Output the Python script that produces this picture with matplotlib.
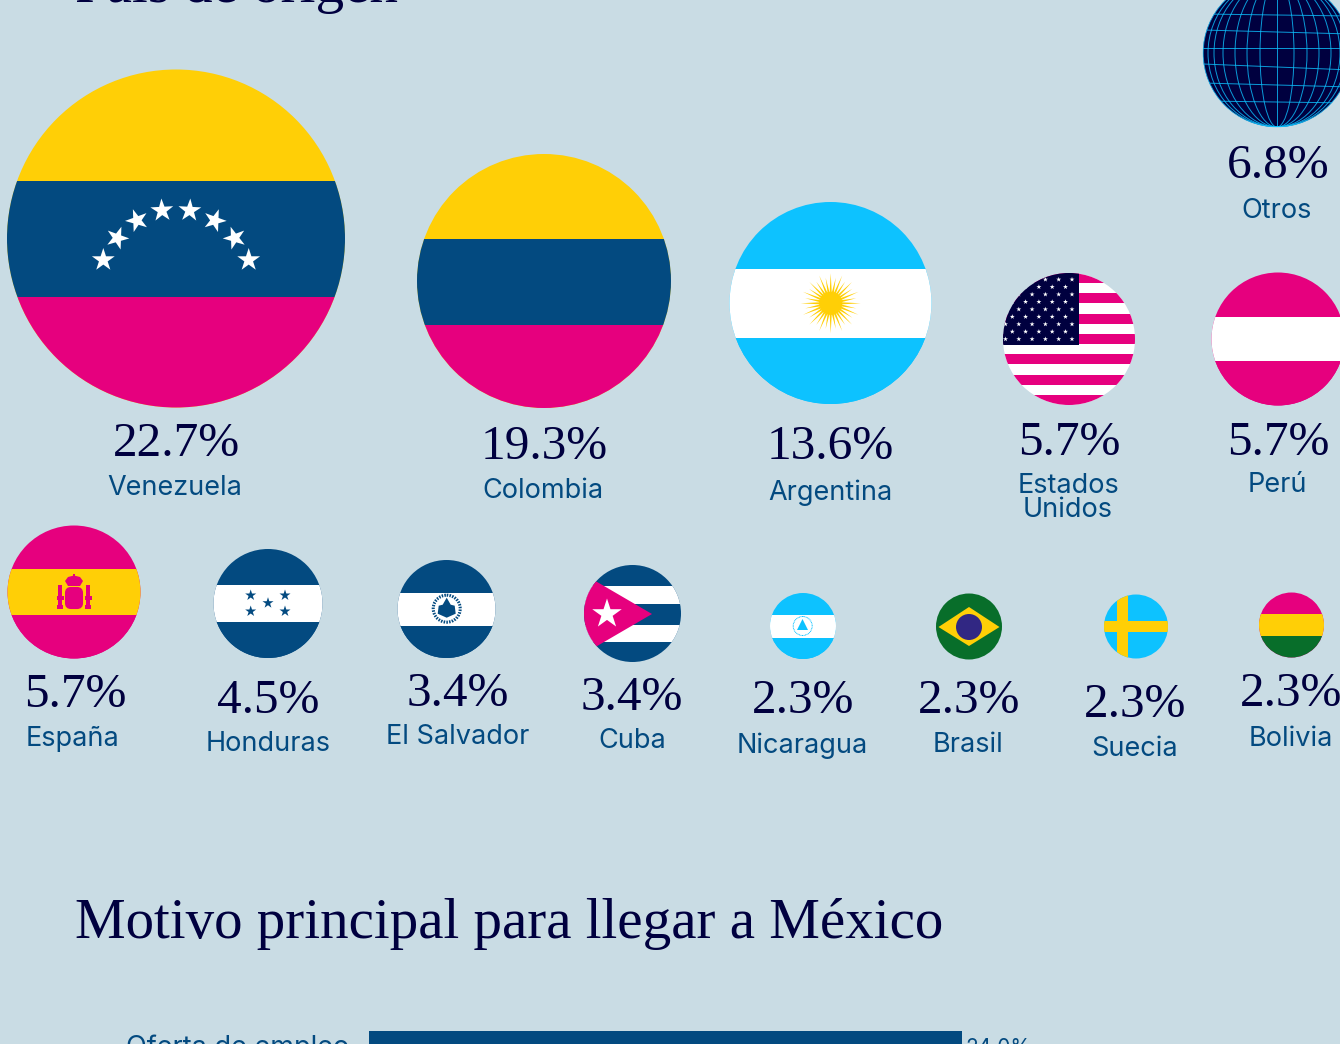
import numpy as np
import matplotlib
matplotlib.use("Agg")
import matplotlib.pyplot as plt
from matplotlib.patches import Circle, Rectangle, Polygon, Ellipse, FancyBboxPatch

# ---- data ----
countries = ["Venezuela", "Colombia", "Argentina", "Estados\nUnidos", "Perú", "Otros", "España",
             "Honduras", "El Salvador", "Cuba", "Nicaragua", "Brasil", "Suecia", "Bolivia"]
shares = [22.7, 19.3, 13.6, 5.7, 5.7, 6.8, 5.7, 4.5, 3.4, 3.4, 2.3, 2.3, 2.3, 2.3]
section_titles = ["País de origen", "Motivo principal para llegar a México"]
reason_labels = ["Oferta de empleo"]
reason_values = [24.0]

# ---- layout (pixels) ----
BG = "#C9DCE4"; YEL = "#FFCF06"; BLU = "#034A80"; MAG = "#E6007E"; SKY = "#0DC2FF"
NAVY = "#00003F"; GRN = "#086E2A"; PUR = "#312783"; WHT = "#FFFFFF"
SERIF = "Liberation Serif"; SANS = "Inter"

circle_xyr = [(176, 238.5, 169), (544, 281, 127), (830.5, 303, 101), (1069, 339, 66), (1278, 339, 66.5),
              (1277, 53, 74), (74, 592, 66.5), (268, 603.5, 54.5), (446.5, 609, 49), (632.5, 613.5, 48.5),
              (803, 626, 33), (969, 626.5, 33), (1136, 626.5, 32), (1291.5, 625, 32.5)]
pct_xy = [(176, 456), (544, 459), (830, 459), (1069, 455), (1278, 455), (1278, 178), (75, 707),
          (268, 713), (458, 706), (632, 710), (803, 713), (969, 713), (1135, 717), (1291, 706)]
name_xy = [(175, 488), (543, 491.5), (830, 492.5), (1068, 498), (1277, 485.5), (1277, 211.5), (73, 738.5),
           (268, 744), (458, 737.5), (632, 741.5), (802, 745.5), (968, 745.5), (1135, 749.5), (1291, 738.5)]

fig = plt.figure(figsize=(13.4, 10.44), dpi=100, facecolor=BG)
ax = fig.add_axes([0, 0, 1, 1])
ax.set_xlim(0, 1340); ax.set_ylim(1044, 0); ax.axis("off")


def star(cx, cy, R, rot=0, color=WHT, clip=None, inner=0.382, z=4):
    ang = np.radians(np.arange(10) * 36 + rot)
    rad = np.where(np.arange(10) % 2 == 0, R, R * inner)
    pts = np.c_[cx + rad * np.sin(ang), cy - rad * np.cos(ang)]
    p = Polygon(pts, closed=True, fc=color, ec="none", zorder=z)
    ax.add_patch(p)
    if clip is not None:
        p.set_clip_path(clip)


def disc(i, base):
    x, y, r = circle_xyr[i]
    c = Circle((x, y), r, fc=base, ec="none", zorder=2)
    ax.add_patch(c)
    return c


def rect(clip, x0, y0, x1, y1, color, z=3):
    p = Rectangle((x0, y0), x1 - x0, y1 - y0, fc=color, ec="none", zorder=z)
    ax.add_patch(p)
    p.set_clip_path(clip)
    return p


def hbands(i, y0, y1, top, mid, bot):
    x, y, r = circle_xyr[i]
    c = disc(i, top)
    rect(c, x - r - 1, y0, x + r + 1, y1, mid)
    rect(c, x - r - 1, y1, x + r + 1, y + r + 1, bot)
    return c


# Venezuela
hbands(0, 181, 297, YEL, BLU, MAG)
ve_x = [103.3, 117.3, 137, 162, 189.7, 214.7, 234.7, 248.7]
ve_y = [260, 238, 220.5, 210.5, 210.5, 220.5, 238, 260]
ve_r = [0, 20, -20, -3, 3, 20, -20, 0]
for sx, sy, sr in zip(ve_x, ve_y, ve_r):
    star(sx, sy, 12, sr)

# Colombia
hbands(1, 239, 325, YEL, BLU, MAG)

# Argentina
hbands(2, 269, 338, SKY, WHT, SKY)
sx, sy = 830.7, 303.3
for k in range(32):
    a = 2 * np.pi * k / 32
    L = 30 if k % 2 == 0 else 26
    d = np.array([np.cos(a), np.sin(a)]); n = np.array([-d[1], d[0]])
    c0 = np.array([sx, sy])
    ax.add_patch(Polygon([c0 + n * 1.2 + d * 8, c0 - n * 1.2 + d * 8, c0 + d * L], fc=YEL, ec="none", zorder=4))
ax.add_patch(Circle((sx, sy), 11.5, fc=YEL, ec="none", zorder=5))

# Estados Unidos
x, y, r = circle_xyr[3]
c = disc(3, WHT)
h = 2 * r / 13
for k in range(0, 13, 2):
    rect(c, x - r - 1, y - r + k * h, x + r + 1, y - r + (k + 1) * h, MAG)
rect(c, x - r - 1, y - r, 1078.5, 344.5, NAVY, z=4)
for row in range(9):
    sy = 279.5 + row * 7.45
    cols = np.arange(1072, 995, -13.3) if row % 2 == 0 else np.arange(1065.5, 995, -13.3)
    for sx in cols:
        star(sx, sy, 2.6, color=WHT, clip=c, z=5)

# Perú
hbands(4, 317, 361, MAG, WHT, MAG)

# Otros (globe)
x, y, r = circle_xyr[5]
c = disc(5, NAVY)
for a in [17, 30, 42, 54, 63, 69]:
    e = Ellipse((x, y), 2 * a, 2 * r, fc="none", ec=SKY, lw=0.7, alpha=0.8, zorder=3)
    ax.add_patch(e); e.set_clip_path(c)
ln = ax.plot([x, x], [y - r, y + r], color=SKY, lw=0.7, alpha=0.8, zorder=3)[0]; ln.set_clip_path(c)
for py, tilt in zip([15, 32, 48, 67, 85, 102], [1, 2, 0, 3, 2, 1]):
    ln = ax.plot([x - r, x + r], [py - tilt, py + tilt], color=SKY, lw=0.7, alpha=0.8, zorder=3)[0]
    ln.set_clip_path(c)
ax.add_patch(Circle((x, y), r - 0.2, fc="none", ec=SKY, lw=0.6, alpha=0.8, zorder=4))

# España
hbands(6, 569, 615, MAG, YEL, MAG)
ax.add_patch(FancyBboxPatch((66, 588), 16, 20, boxstyle="round,pad=0,rounding_size=5", fc=MAG, ec=MAG, lw=1.5, zorder=4))
ax.add_patch(Polygon([(65, 581), (68, 577), (74, 575.5), (80, 577), (83, 581), (80, 586), (68, 586)],
                     fc=MAG, ec="none", zorder=4))
ax.add_patch(Rectangle((73.2, 574), 1.6, 4, fc=MAG, ec="none", zorder=4))
for px in (60, 88):
    ax.add_patch(Rectangle((px - 2, 585), 4, 23, fc=MAG, ec="none", zorder=4))
    ax.add_patch(Rectangle((px - 3.5, 596), 7, 4, fc=MAG, ec="none", zorder=4))
    ax.add_patch(Rectangle((px - 3.2, 605), 6.4, 4, fc=MAG, ec="none", zorder=4))

# Honduras
hbands(7, 585, 622, BLU, WHT, BLU)
for sx, sy in [(250.7, 595.3), (285, 595.3), (268, 603), (250.7, 611.3), (285, 611.3)]:
    star(sx, sy, 5.8, color=BLU)

# El Salvador
hbands(8, 593, 626, BLU, WHT, BLU)
ex, ey = 446.7, 608.7
ax.add_patch(Circle((ex, ey), 13.5, fc="none", ec=BLU, lw=2.2, ls=(0, (0.5, 0.4)), zorder=4))
ax.add_patch(Polygon([(ex - 9, ey + 5), (ex - 8, ey - 3), (ex - 4, ey - 4), (ex, ey - 11), (ex + 4, ey - 4),
                      (ex + 8, ey - 3), (ex + 9, ey + 5), (ex, ey + 9)], fc=BLU, ec="none", zorder=4))

# Cuba
x, y, r = circle_xyr[9]
c = disc(9, BLU)
rect(c, x - r - 1, 585.5, x + r + 1, 604, WHT)
rect(c, x - r - 1, 624.5, x + r + 1, 642, WHT)
t = Polygon([(652, 614), (580, 572), (580, 656)], fc=MAG, ec="none", zorder=4)
ax.add_patch(t); t.set_clip_path(c)
star(607, 614, 15.5, z=5)

# Nicaragua
hbands(10, 615, 638, SKY, WHT, SKY)
ax.add_patch(Circle((802.7, 626), 9.5, fc="none", ec=SKY, lw=0.7, ls=(0, (1, 0.6)), zorder=4))
ax.add_patch(Polygon([(802.5, 619), (797, 630), (808, 630)], fc=SKY, ec="none", zorder=5))

# Brasil
disc(11, GRN)
ax.add_patch(Polygon([(938.5, 627), (969, 607), (999.5, 627), (969, 646)], fc=YEL, ec="none", zorder=3))
ax.add_patch(Circle((969, 627), 13, fc=PUR, ec="none", zorder=4))

# Suecia
x, y, r = circle_xyr[12]
c = disc(12, SKY)
rect(c, 1117, y - r - 1, 1128, y + r + 1, YEL)
rect(c, x - r - 1, 621, x + r + 1, 632, YEL)

# Bolivia
hbands(13, 614, 636, MAG, YEL, GRN)

# ---- texts ----
for val, (px, py) in zip(shares, pct_xy):
    ax.text(px, py, f"{val:.1f}%", family=SERIF, fontsize=35.5, color=NAVY, ha="center", va="baseline", zorder=6)
for name, (px, py) in zip(countries, name_xy):
    ax.text(px, py, name, family=SANS, fontsize=19.5, color=BLU, ha="center", va="center",
            linespacing=0.86, zorder=6)

ax.text(75, 2, section_titles[0], family=SERIF, fontsize=41, color=NAVY, ha="left", va="baseline", clip_on=True)
ax.text(75, 938.5, section_titles[1], family=SERIF, fontsize=41, color=NAVY, ha="left", va="baseline")

# ---- bars ----
bar_x0 = 369
px_per_unit = (962 - 369) / reason_values[0]
for lab, v in zip(reason_labels, reason_values):
    ax.barh(1060, v * px_per_unit, height=58, left=bar_x0, color=BLU, zorder=3)
    ax.text(349, 1048, lab, family=SANS, fontsize=19.5, color=BLU, ha="right", va="center")
    ax.text(bar_x0 + v * px_per_unit + 3, 1048, f"{v:.1f}%", family=SANS, fontsize=15, color=BLU, ha="left", va="center")
ax.set_xlim(0, 1340); ax.set_ylim(1044, 0)

fig.savefig("out.png", dpi=100, facecolor=BG)
